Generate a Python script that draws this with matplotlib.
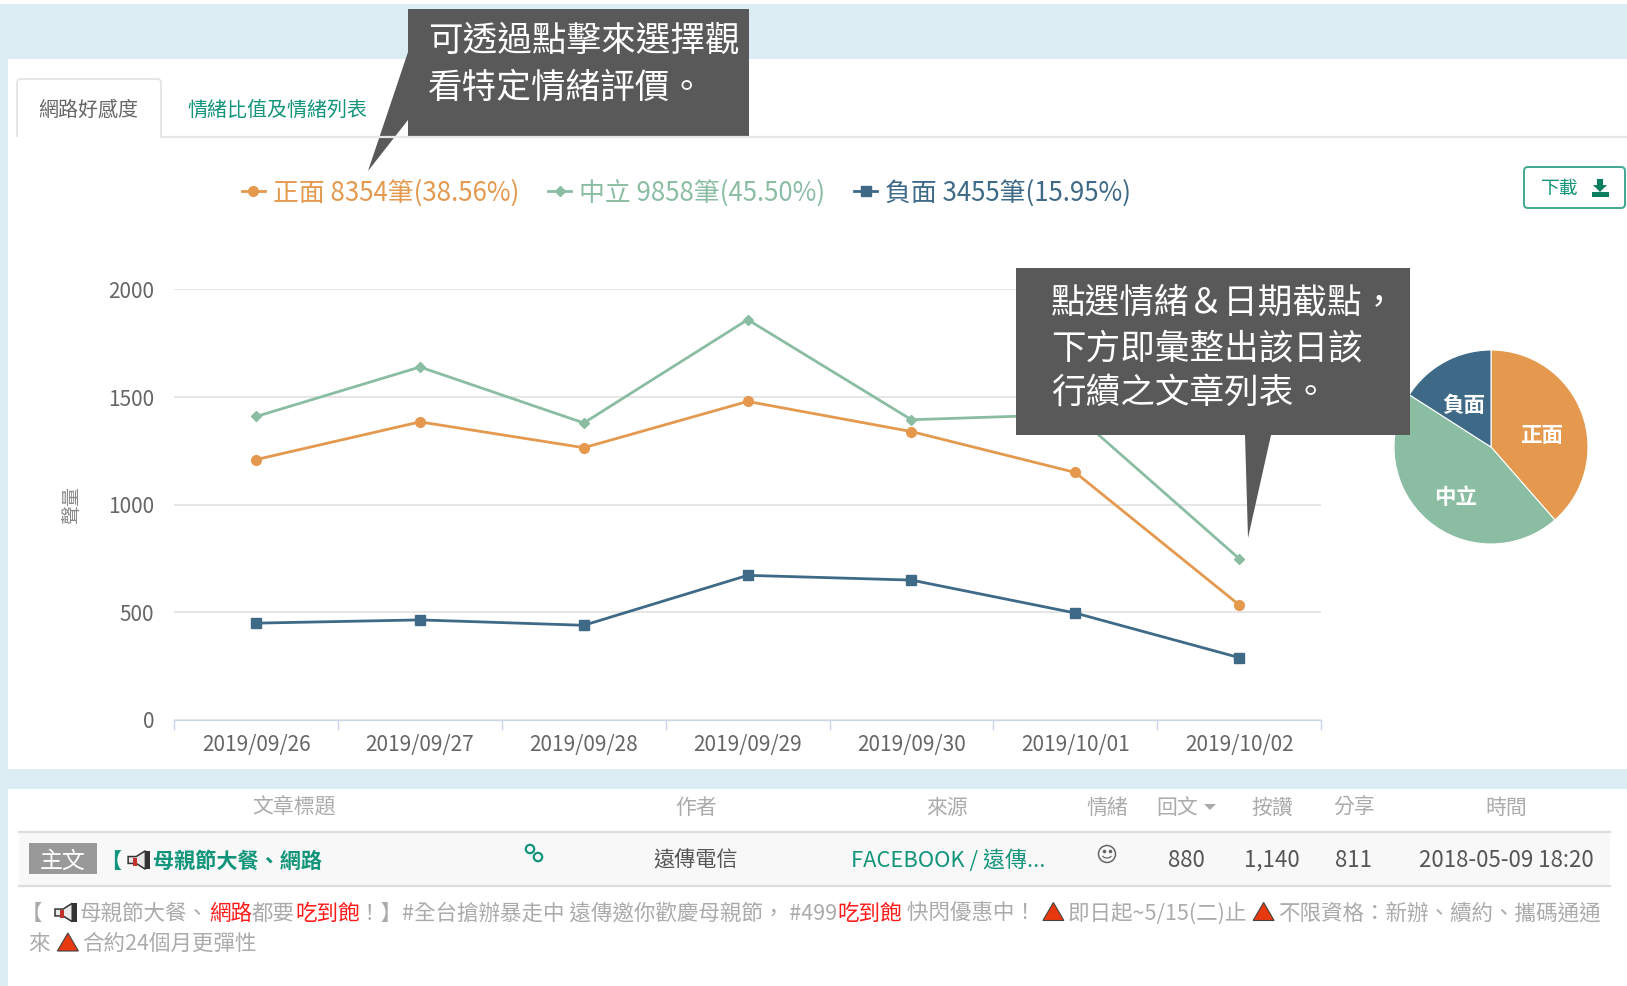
from matplotlib import pyplot as plt
from matplotlib.patches import Rectangle, Polygon, FancyBboxPatch, Circle
import numpy as np

plt.rcParams['font.family'] = ['Noto Sans CJK TC', 'DejaVu Sans']

# chart data
dates = ["2019/09/26", "2019/09/27", "2019/09/28", "2019/09/29", "2019/09/30", "2019/10/01", "2019/10/02"]
positive = [1210, 1385, 1265, 1480, 1340, 1150, 535]
neutral = [1410, 1640, 1380, 1860, 1395, 1420, 750]
negative = [450, 465, 440, 672, 650, 497, 290]
y_ticks = [0, 500, 1000, 1500, 2000]

legend_labels = ["正面 8354筆(38.56%)", "中立 9858筆(45.50%)", "負面 3455筆(15.95%)"]
pie_names = ["正面", "中立", "負面"]
pie_shares = [38.56, 45.50, 15.95]

# table data
table_headers = ["文章標題", "作者", "來源", "情緒", "回文", "按讚", "分享", "時間"]
row_author = "遠傳電信"
row_source = "FACEBOOK / 遠傳..."
row_numbers = ["880", "1,140", "811", "2018-05-09 18:20"]

callout_1 = ["可透過點擊來選擇觀", "看特定情緒評價。"]
callout_2 = ["點選情緒＆日期截點，", "下方即彙整出該日該", "行續之文章列表。"]

ORANGE = "#E4994F"
GREEN = "#8ABDA2"
BLUE = "#3F6A87"
TEAL = "#12957A"
GREY = "#ABABAB"
DARK = "#595959"
W, H = 1627, 986

fig = plt.figure(figsize=(W / 100, H / 100), dpi=100, facecolor="white")


def px_axes(left, top, right, bottom, zorder):
    return fig.add_axes([left / W, 1 - bottom / H, (right - left) / W, (bottom - top) / H], zorder=zorder)


# background panels, in pixel coordinates
bg = px_axes(0, 0, W, H, 0)
bg.set_xlim(0, W)
bg.set_ylim(H, 0)
bg.axis("off")
bg.add_patch(Rectangle((0, 4), W, H, color="#DBEDF3", lw=0))
bg.add_patch(Rectangle((8, 59), W, 710, color="white", lw=0))
bg.add_patch(Rectangle((8, 789), W, 200, color="white", lw=0))

# line chart
ax = px_axes(174.3, 289.5, 1321, 720, 1)
ax.patch.set_alpha(0)
x = np.arange(len(dates))
ax.plot(x, positive, color=ORANGE, lw=2.0, marker="o", ms=7, label=legend_labels[0])
ax.plot(x, neutral, color=GREEN, lw=2.0, marker="D", ms=5, label=legend_labels[1])
ax.plot(x, negative, color=BLUE, lw=2.0, marker="s", ms=6.5, label=legend_labels[2])
ax.set_xlim(-0.5, 6.5)
ax.set_ylim(0, 2000)
ax.set_yticks(y_ticks)
ax.set_xticks(np.arange(-0.5, 7, 1))
ax.set_xticklabels([])
ax.set_xticks(x, dates, minor=True)
ax.tick_params(axis="x", which="major", length=7.5, width=1, color="#CCD6EB")
ax.tick_params(axis="x", which="minor", length=0, pad=10, labelsize=15, labelcolor="#666666")
ax.tick_params(axis="y", length=0, pad=14.5, labelsize=15, labelcolor="#666666")
ax.grid(axis="y", color="#E6E6E6", lw=1.4)
ax.set_axisbelow(True)
for s in ["top", "left", "right"]:
    ax.spines[s].set_visible(False)
ax.spines["bottom"].set_color("#CCD6EB")
ax.set_ylabel("聲量", fontsize=13.7, color="#8A8A8A")
ax.yaxis.set_label_coords(-0.0805, 0.5)
ax.legend(loc="center left", bbox_to_anchor=(0.0589, 1.225), ncol=3, frameon=False, labelcolor="linecolor",
          fontsize=18.6, handlelength=0.9, handletextpad=0.3, columnspacing=1.12, borderpad=0, borderaxespad=0)

# pie
pie_ax = px_axes(1394, 350, 1588, 544, 2)
pie_ax.pie(pie_shares, colors=[ORANGE, GREEN, BLUE], startangle=90, counterclock=False, radius=1,
           wedgeprops={"edgecolor": "white", "linewidth": 0.8})
pie_ax.set_xlim(-1, 1)
pie_ax.set_ylim(-1, 1)

# everything on top: callouts, tabs, table
top = px_axes(0, 0, W, H, 5)
top.set_xlim(0, W)
top.set_ylim(H, 0)
top.axis("off")
top.patch.set_alpha(0)

for (px, py), name in zip([(1542, 435), (1456, 497), (1464, 405)], pie_names):
    top.text(px, py, name, color="white", fontsize=15.5, fontweight="bold", ha="center", va="center")

# tabs
top.plot([161, W], [137, 137], color="#E6E6E6", lw=1.6)
top.add_patch(FancyBboxPatch((17, 79), 144, 70, boxstyle="round,pad=0,rounding_size=4", fc="white", ec="#E2E2E2", lw=1.2))
top.add_patch(Rectangle((14, 137), 150, 16, color="white", lw=0))
top.text(88, 110, "網路好感度", fontsize=14.4, color="#666666", ha="center", va="center")
top.text(277, 110, "情緒比值及情緒列表", fontsize=14.4, color=TEAL, ha="center", va="center")

# callouts
top.add_patch(Rectangle((408, 9), 341, 128, color=DARK, lw=0))
top.add_patch(Polygon([(408, 52), (368, 171), (408, 120)], color=DARK, lw=0))
for line, py in zip(callout_1, [41.5, 88]):
    top.text(428, py, line, color="white", fontsize=24.9, fontweight="light", ha="left", va="center")

top.add_patch(Rectangle((1016, 268), 394, 167, color=DARK, lw=0))
top.add_patch(Polygon([(1245, 435), (1248, 538), (1271, 435)], color=DARK, lw=0))
for line, py in zip(callout_2, [303, 348.5, 393]):
    top.text(1051, py, line, color="white", fontsize=24.9, fontweight="light", ha="left", va="center")

# download button
top.add_patch(FancyBboxPatch((1524, 167), 101, 41, boxstyle="round,pad=0,rounding_size=4", fc="white", ec="#3FA98F", lw=1.4))
top.text(1560, 188.5, "下載", fontsize=13.5, color=TEAL, ha="center", va="center")
top.add_patch(Polygon([(1597, 179), (1603, 179), (1603, 185), (1607, 185), (1600, 192), (1593, 185), (1597, 185)], color="#0B7F5F", lw=0))
top.add_patch(Rectangle((1592, 192), 17, 5, color="#0B7F5F", lw=0))

# table header
header_x = [294, 696, 947, 1107, 1177, 1272, 1354, 1506]
for name, px in zip(table_headers, header_x):
    top.text(px, 807.5, name, fontsize=15, color=GREY, ha="center", va="center")
top.add_patch(Polygon([(1204, 804), (1216, 804), (1210, 810)], color=GREY, lw=0))

# table row
top.add_patch(Rectangle((19, 832), 1591, 54, color="#F8F8F8", lw=0))
top.plot([19, 1610], [832, 832], color="#DDDDDD", lw=1.6)
top.plot([19, 1610], [886, 886], color="#DDDDDD", lw=1.6)
top.add_patch(Rectangle((29, 843), 68, 31, color="#999999", lw=0))
top.text(63, 861, "主文", fontsize=16.5, color="white", ha="center", va="center")


def megaphone(px, py, s=1.0):
    top.add_patch(Polygon([(px, py - 3 * s), (px + 7 * s, py - 3 * s), (px + 15 * s, py - 8 * s), (px + 15 * s, py + 8 * s),
                           (px + 7 * s, py + 3 * s), (px, py + 3 * s)], fc="#E8E8E8", ec="#333333", lw=1.1))
    top.add_patch(Rectangle((px + 4 * s, py - 2 * s), 4 * s, 7 * s, color="#C4302B", lw=0))
    top.add_patch(Rectangle((px + 15 * s, py - 8 * s), 4 * s, 16 * s, color="#333333", lw=0))


def triangle(px, py):
    top.add_patch(Polygon([(px, py + 8), (px + 21, py + 8), (px + 10.5, py - 10)], fc="#E8380D", ec="#444444", lw=0.8))


def run(px, py, size, pieces):
    # pieces are (text, colour, weight), or ("icon", kind, width) for drawn glyphs
    rend = fig.canvas.get_renderer()
    for piece in pieces:
        if piece[0] == "icon":
            if piece[1] == "mega":
                megaphone(px + piece[2] - 25, py - 1, 1.15)
            else:
                triangle(px + 2, py - 1)
            px += piece[2]
        else:
            t = top.text(px, py, piece[0], fontsize=size, color=piece[1], fontweight=piece[2], ha="left", va="center")
            px += t.get_window_extent(rend).width


run(100, 861, 15.2, [("【", TEAL, "bold"), ("icon", "mega", 32), ("母親節大餐、網路", TEAL, "bold")])

# link icon
top.add_patch(Circle((530, 849), 4.2, fc="none", ec=TEAL, lw=1.6))
top.add_patch(Circle((538, 857), 4.2, fc="none", ec=TEAL, lw=1.6))

top.text(696, 860.5, row_author, fontsize=15.2, color="#555555", ha="center", va="center")
top.text(851, 860.5, row_source, fontsize=15.8, color=TEAL, ha="left", va="center")

# smile icon
top.add_patch(Circle((1107, 854), 8.5, fc="none", ec="#666666", lw=1.1))
top.plot([1104, 1110], [851, 851], ls="none", marker="o", ms=1.6, color="#666666")
smile = np.linspace(0.15, 0.85, 12) * np.pi
top.plot(1107 + 4.5 * np.cos(smile), 855 + 3 * np.sin(smile), color="#666666", lw=0.9)

for val, px in zip(row_numbers, [1186, 1272, 1354, 1506]):
    top.text(px, 860.5, val, fontsize=16, color="#555555", ha="center", va="center")

# body text
RED = "#FF1A1A"
run(21, 913.5, 15.5, [("【", GREY, "normal"), ("icon", "mega", 37.5), ("母親節大餐、", GREY, "normal"), ("網路", RED, "normal"),
              ("都要", GREY, "normal"), ("吃到飽", RED, "normal"),
              ("！】#全台搶辦暴走中 遠傳邀你歡慶母親節， #499", GREY, "normal"), ("吃到飽", RED, "normal"),
              (" 快閃優惠中！ ", GREY, "normal"), ("icon", "tri", 27), ("即日起~5/15(二)止 ", GREY, "normal"),
              ("icon", "tri", 27), ("不限資格：新辦、續約、攜碼通通", GREY, "normal")])
run(29, 944, 15.5, [("來 ", GREY, "normal"), ("icon", "tri", 27), ("合約24個月更彈性", GREY, "normal")])

fig.savefig("out.png", dpi=100)
